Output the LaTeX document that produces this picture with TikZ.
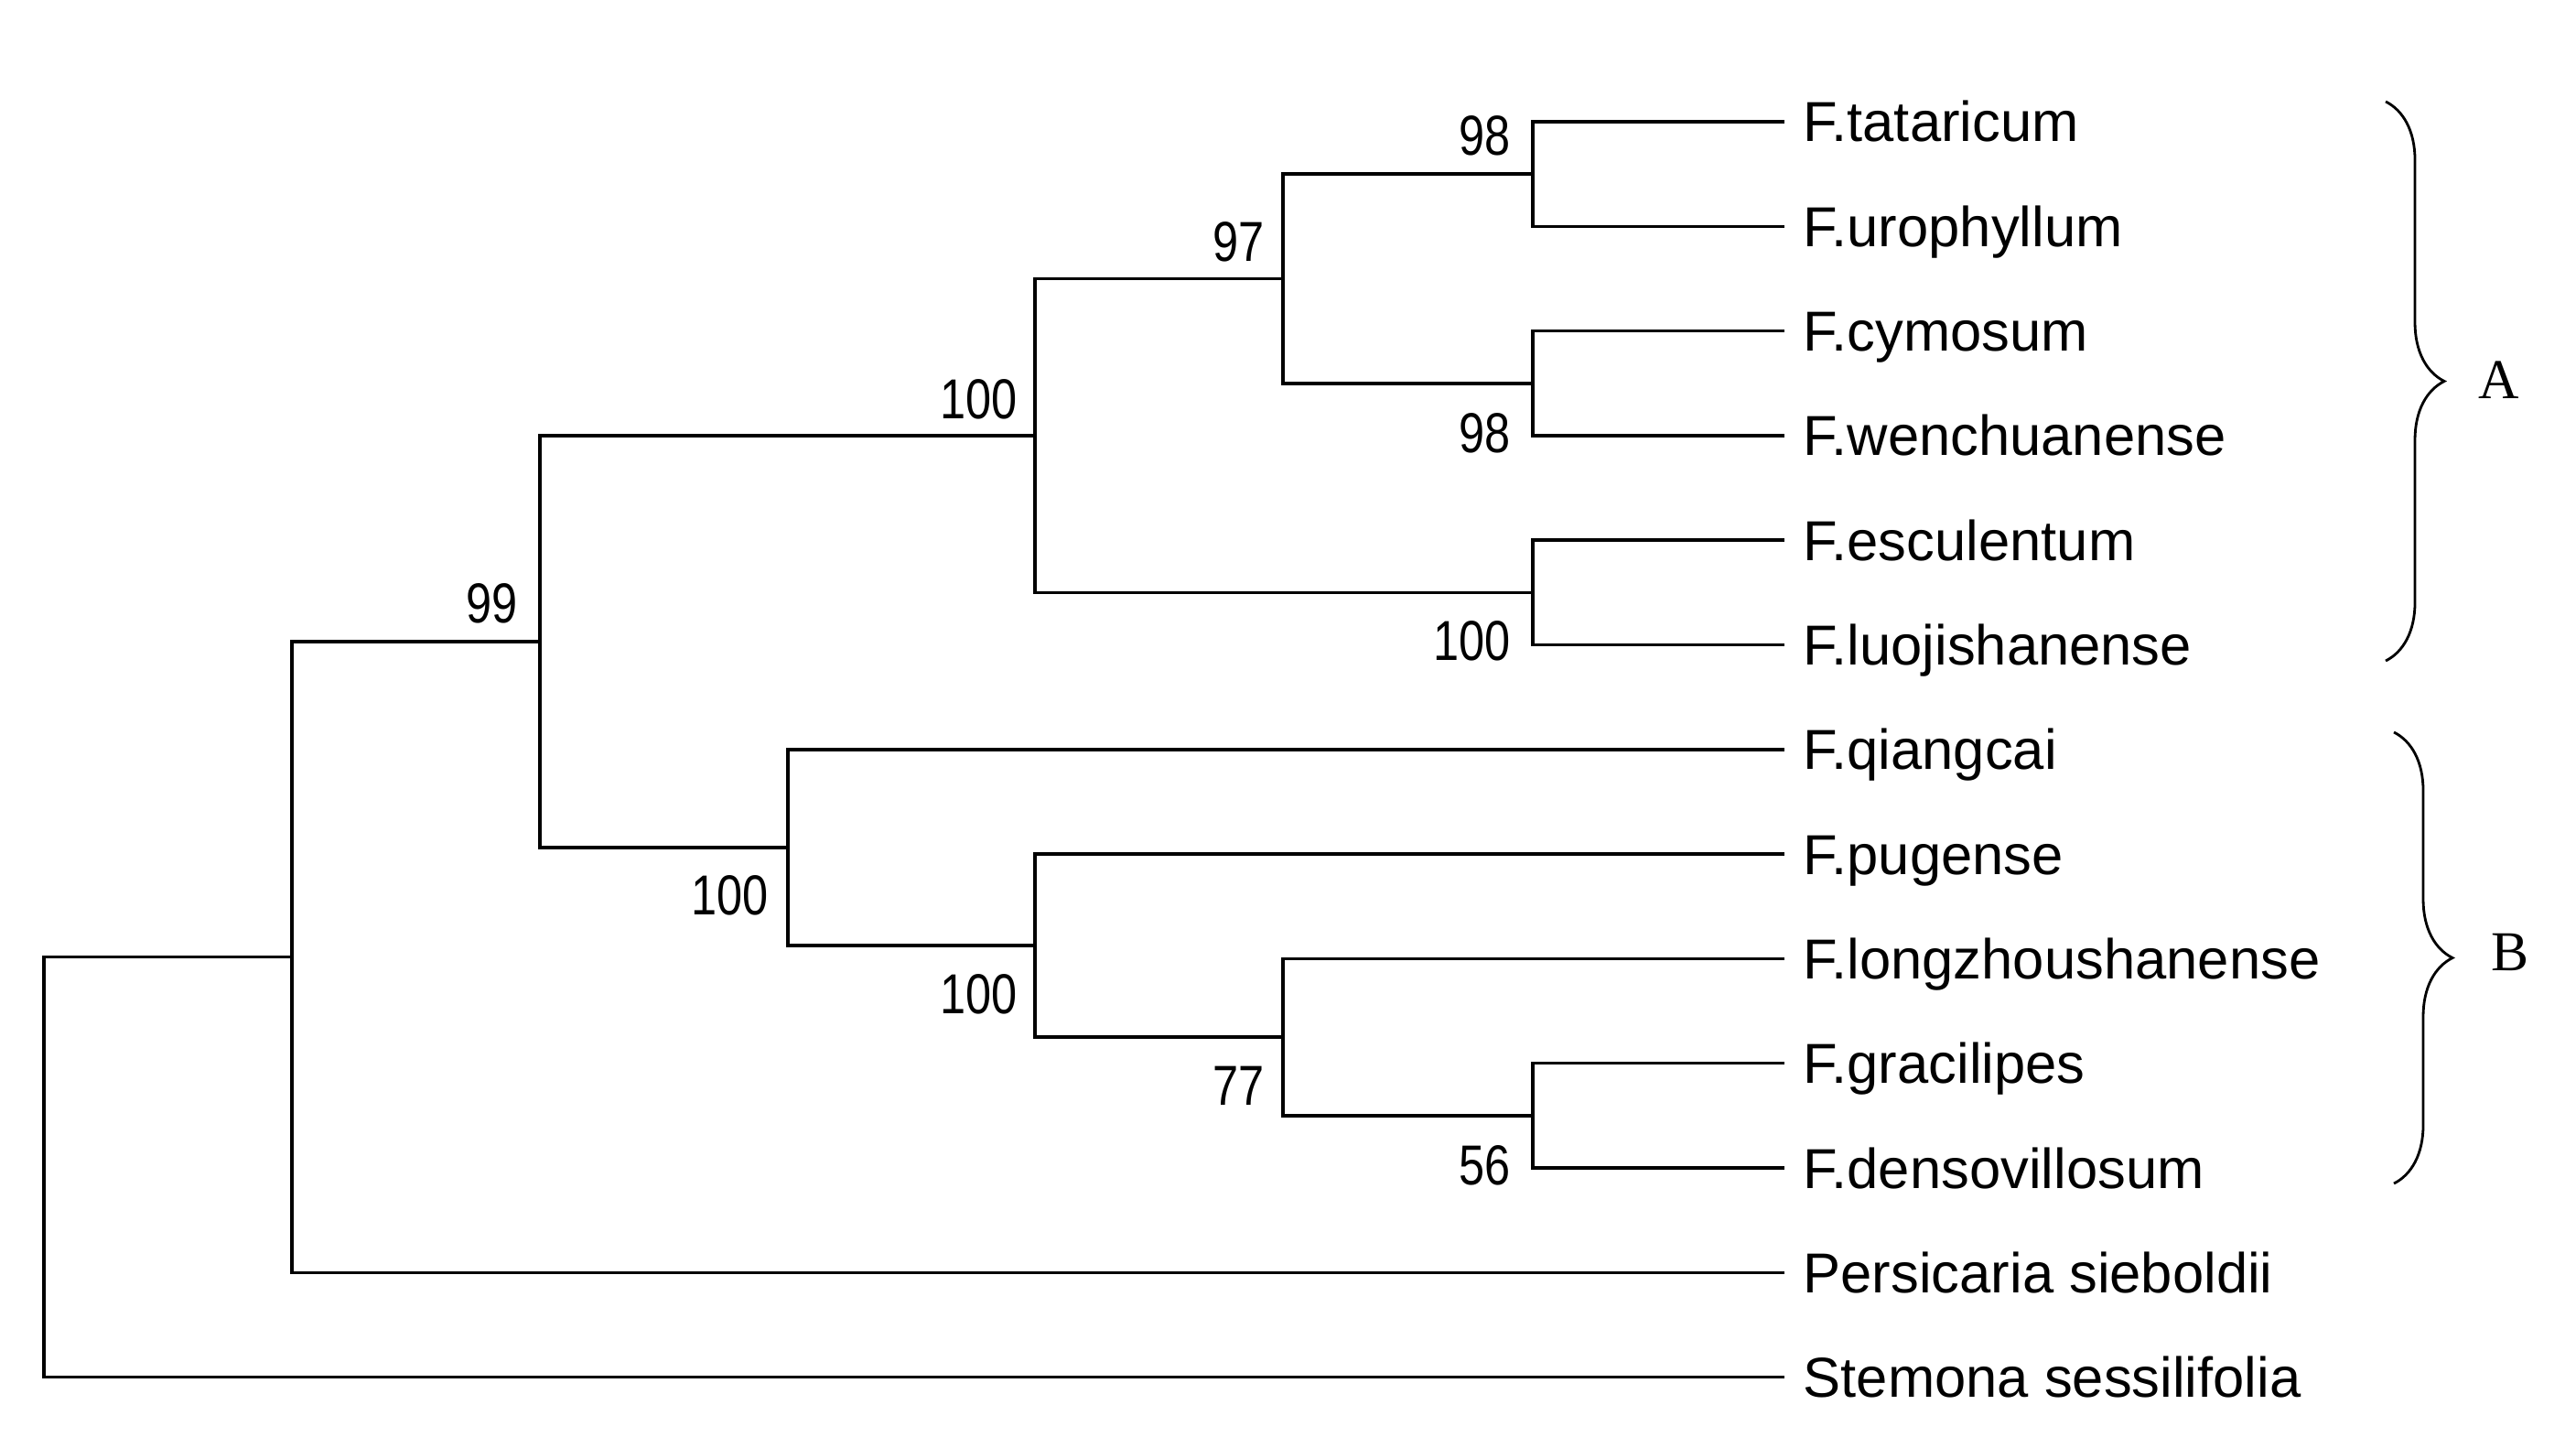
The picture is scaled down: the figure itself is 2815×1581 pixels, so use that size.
\documentclass[tikz,border=0pt]{standalone}
\usepackage{fontspec}
\usepackage{graphicx}
\setmainfont{Liberation Sans}
\newfontfamily\serifA{Liberation Serif}
\usetikzlibrary{decorations.pathreplacing}
\begin{document}
\begin{tikzpicture}[x=0.01cm,y=-0.01cm,
  branch/.style={line width=1pt, line cap=rect},
  taxon/.style={anchor=west, inner sep=0pt, font=\fontsize{17.5}{20}\selectfont, text height=12.5pt, text depth=0pt},
  boot/.style={anchor=east, inner sep=0pt, font=\fontsize{17.5}{20}\selectfont, text height=12.5pt, text depth=0pt},
  cladebrace/.style={decorate, decoration={brace, amplitude=0.64cm}, line width=0.8pt},
  cladelabel/.style={inner sep=0pt, font=\serifA\fontsize{17.5}{20}\selectfont}]
\useasboundingbox (0,0) rectangle (2815,1581);
% leaf ends
\coordinate (e1) at (1948,133);
\coordinate (e2) at (1948,247.3);
\coordinate (e3) at (1948,361.6);
\coordinate (e4) at (1948,475.9);
\coordinate (e5) at (1948,590.2);
\coordinate (e6) at (1948,704.5);
\coordinate (e7) at (1948,818.8);
\coordinate (e8) at (1948,933.1);
\coordinate (e9) at (1948,1047.4);
\coordinate (e10) at (1948,1161.7);
\coordinate (e11) at (1948,1276);
\coordinate (e12) at (1948,1390.3);
\coordinate (e13) at (1948,1504.6);
% taxon names
\node[taxon] (t1) at (1970,133) {F.tataricum};
\node[taxon] (t2) at (1970,247.3) {F.urophyllum};
\node[taxon] (t3) at (1970,361.6) {F.cymosum};
\node[taxon] (t4) at (1970,475.9) {F.wenchuanense};
\node[taxon] (t5) at (1970,590.2) {F.esculentum};
\node[taxon] (t6) at (1970,704.5) {F.luojishanense};
\node[taxon] (t7) at (1970,818.8) {F.qiangcai};
\node[taxon] (t8) at (1970,933.1) {F.pugense};
\node[taxon] (t9) at (1970,1047.4) {F.longzhoushanense};
\node[taxon] (t10) at (1970,1161.7) {F.gracilipes};
\node[taxon] (t11) at (1970,1276) {F.densovillosum};
\node[taxon] (t12) at (1970,1390.3) {Persicaria sieboldii};
\node[taxon] (t13) at (1970,1504.6) {Stemona sessilifolia};
% internal nodes
\coordinate (n98a) at (1675,190.15);
\coordinate (n98b) at (1675,418.75);
\coordinate (n100e) at (1675,647.35);
\coordinate (n97) at (1402,304.45);
\coordinate (nA) at (1131,475.9);
\coordinate (n56) at (1675,1218.85);
\coordinate (n77) at (1402,1133.1);
\coordinate (n100c) at (1131,1033.1);
\coordinate (n100b) at (861,925.95);
\coordinate (n99) at (590,700.9);
\coordinate (nP) at (319,1045.6);
\coordinate (root) at (48,1275.1);
% branches
\draw[branch] (n98a) |- (e1);
\draw[branch] (n98a) |- (e2);
\draw[branch] (n98b) |- (e3);
\draw[branch] (n98b) |- (e4);
\draw[branch] (n100e) |- (e5);
\draw[branch] (n100e) |- (e6);
\draw[branch] (n97) |- (n98a);
\draw[branch] (n97) |- (n98b);
\draw[branch] (nA) |- (n97);
\draw[branch] (nA) |- (n100e);
\draw[branch] (n56) |- (e10);
\draw[branch] (n56) |- (e11);
\draw[branch] (n77) |- (e9);
\draw[branch] (n77) |- (n56);
\draw[branch] (n100c) |- (e8);
\draw[branch] (n100c) |- (n77);
\draw[branch] (n100b) |- (e7);
\draw[branch] (n100b) |- (n100c);
\draw[branch] (n99) |- (nA);
\draw[branch] (n99) |- (n100b);
\draw[branch] (nP) |- (n99);
\draw[branch] (nP) |- (e12);
\draw[branch] (root) |- (nP);
\draw[branch] (root) |- (e13);
% bootstrap values
\node[boot] (b98a) at (1651,148) {\scalebox{0.82}[1]{98}};
\node[boot] (b97) at (1382,264) {\scalebox{0.82}[1]{97}};
\node[boot] (b100A) at (1112,436) {\scalebox{0.82}[1]{100}};
\node[boot] (b99) at (566,659) {\scalebox{0.82}[1]{99}};
\node[boot] (b98b) at (1651,473) {\scalebox{0.82}[1]{98}};
\node[boot] (b100e) at (1651,700) {\scalebox{0.82}[1]{100}};
\node[boot] (b100b) at (840,978) {\scalebox{0.82}[1]{100}};
\node[boot] (b100c) at (1112,1085) {\scalebox{0.82}[1]{100}};
\node[boot] (b77) at (1382,1185) {\scalebox{0.82}[1]{77}};
\node[boot] (b56) at (1651,1272) {\scalebox{0.82}[1]{56}};
% clade braces
\coordinate (bAt) at (2607,111);
\coordinate (bAb) at (2607,722);
\coordinate (bBt) at (2616,800);
\coordinate (bBb) at (2616,1293);
\draw[cladebrace] (bAt) -- (bAb);
\draw[cladebrace] (bBt) -- (bBb);
\node[cladelabel] (cA) at (2731,415) {A};
\node[cladelabel] (cB) at (2743,1040) {B};
\end{tikzpicture}
\end{document}
